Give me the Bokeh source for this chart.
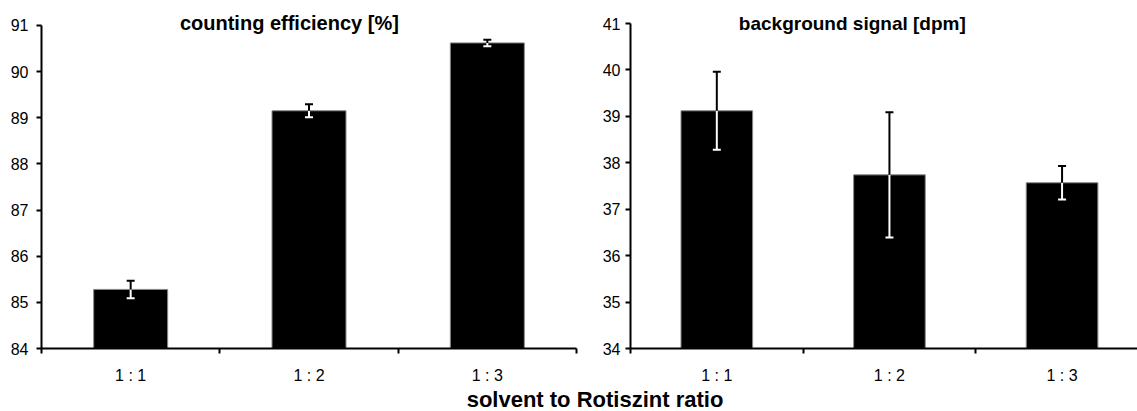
from bokeh.plotting import figure
from bokeh.models import ColumnDataSource, FixedTicker, Label, Range1d
from bokeh.layouts import column, row
from bokeh.embed import file_html
from bokeh.resources import INLINE

# ---- data ----
categories = ["1 : 1", "1 : 2", "1 : 3"]
efficiency = [85.28, 89.15, 90.62]
efficiency_err = [0.19, 0.14, 0.07]
background = [39.12, 37.74, 37.57]
background_err = [0.84, 1.35, 0.36]
eff_ticks = [84, 85, 86, 87, 88, 89, 90, 91]
bg_ticks = [34, 35, 36, 37, 38, 39, 40, 41]
title_eff = "counting efficiency [%]"
title_bg = "background signal [dpm]"
x_label = "solvent to Rotiszint ratio"

FONT = "Liberation Sans"
ROW_H = 386
PX_PER_UNIT = 325 / 7.0


def panel(vals, errs, yticks, title, width, border_left, frame_bottom,
          border_right, x_end, title_x, title_px, standoff_y, title_size):
    xs = list(range(1, len(categories) + 1))
    upper = [v + e for v, e in zip(vals, errs)]
    lower = [v - e for v, e in zip(vals, errs)]
    src = ColumnDataSource(dict(x=xs, top=vals, up=upper, lo=lower))
    y0 = yticks[0]
    y_top = y0 + frame_bottom / PX_PER_UNIT  # frame reaches the canvas top
    p = figure(width=width, height=ROW_H, toolbar_location=None,
               output_backend="svg",
               x_range=Range1d(0.5, x_end),
               y_range=Range1d(y0, y_top),
               min_border_left=border_left, min_border_top=0,
               min_border_bottom=ROW_H - frame_bottom,
               min_border_right=border_right)
    p.title.visible = False
    p.vbar(x="x", top="top", bottom=y0, width=0.415, source=src,
           fill_color="black", line_color="#8a8a8a", line_width=1)
    # error bars: white inside the bar, black above
    p.segment(x0="x", y0="lo", x1="x", y1="top", source=src,
              line_color="white", line_width=2)
    p.segment(x0="x", y0="top", x1="x", y1="up", source=src,
              line_color="black", line_width=2)
    p.scatter(x="x", y="lo", source=src, marker="dash", size=8,
              line_color="white", line_width=2)
    p.scatter(x="x", y="up", source=src, marker="dash", size=8,
              line_color="black", line_width=2)

    p.xgrid.visible = False
    p.ygrid.visible = False
    p.outline_line_color = None
    p.background_fill_color = "white"

    xa = p.xaxis[0]
    xa.ticker = FixedTicker(ticks=xs,
                            minor_ticks=[x - 0.5 for x in xs] + [xs[-1] + 0.5])
    xa.major_label_overrides = {x: c for x, c in zip(xs, categories)}
    xa.major_tick_out = 0
    xa.major_tick_in = 0
    xa.minor_tick_out = 5
    xa.minor_tick_in = 0
    xa.minor_tick_line_width = 2
    xa.minor_tick_line_color = "black"
    xa.axis_line_width = 2
    xa.axis_line_color = "black"
    xa.major_label_standoff = 13
    xa.major_label_text_font = FONT
    xa.major_label_text_font_size = "16px"
    xa.major_label_text_line_height = 1.0
    xa.major_label_text_color = "black"

    ya = p.yaxis[0]
    ya.ticker = FixedTicker(ticks=yticks, minor_ticks=[])
    ya.bounds = (yticks[0], yticks[-1])
    ya.major_tick_out = 5
    ya.major_tick_in = 0
    ya.major_tick_line_width = 2
    ya.major_tick_line_color = "black"
    ya.minor_tick_out = 0
    ya.minor_tick_in = 0
    ya.axis_line_width = 2
    ya.axis_line_color = "black"
    ya.major_label_standoff = standoff_y
    ya.major_label_text_font = FONT
    ya.major_label_text_font_size = "16px"
    ya.major_label_text_color = "black"

    p.add_layout(Label(x=title_x, y=y_top - title_px / PX_PER_UNIT,
                       text=title, text_align="center",
                       text_baseline="middle", text_font=FONT,
                       text_font_style="bold", text_font_size=title_size,
                       text_color="black"))
    return p


p1 = panel(efficiency, efficiency_err, eff_ticks, title_eff,
           width=590, border_left=41, frame_bottom=350,
           border_right=14, x_end=3.5, title_x=1.89, title_px=22.5,
           standoff_y=8, title_size="20px")
p2 = panel(background, background_err, bg_ticks, title_bg,
           width=547, border_left=40, frame_bottom=348,
           border_right=0, x_end=3.437, title_x=1.785, title_px=22.5,
           standoff_y=5, title_size="19px")

H3 = 411 - ROW_H
p3 = figure(width=1137, height=H3, toolbar_location=None,
            output_backend="svg",
            x_range=Range1d(0, 1137), y_range=Range1d(0, H3),
            x_axis_type=None, y_axis_type=None, min_border=0)
p3.title.visible = False
p3.xgrid.visible = False
p3.ygrid.visible = False
p3.outline_line_color = None
p3.add_layout(Label(x=594.5, y=H3 / 2.0, text=x_label, text_align="center",
                    text_baseline="middle", text_font=FONT,
                    text_font_style="bold", text_font_size="22px",
                    text_color="black"))

layout = column(row(p1, p2, spacing=0), p3, spacing=0)
open("out.html", "w").write(file_html(layout, INLINE))
